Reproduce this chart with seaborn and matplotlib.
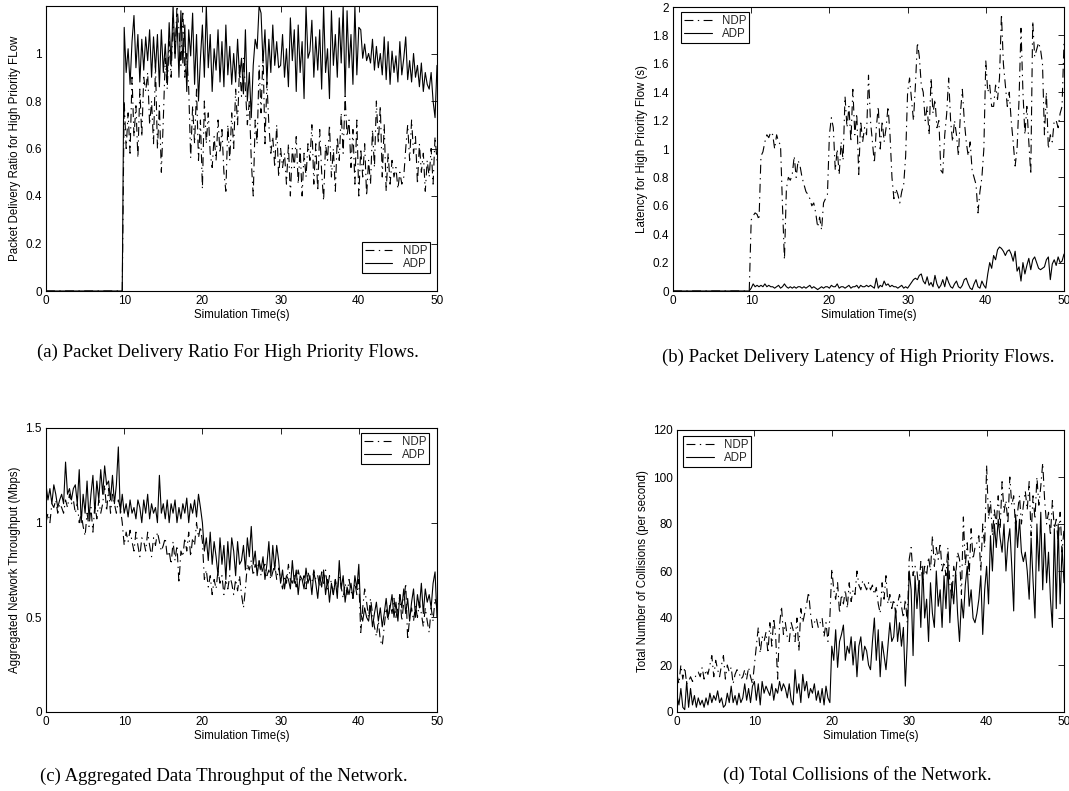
import numpy as np
import pandas as pd
import matplotlib
matplotlib.use("Agg")
import matplotlib.pyplot as plt
import seaborn as sns

# ---------------- data ----------------
time = np.arange(0, 50.001, 0.25)          # simulation time grid (s)
x_ticks = [0, 10, 20, 30, 40, 50]
x_ticklabels = ["0", "10", "20", "30", "40", "50"]

zeros_before_10 = [0.0] * 40               # t = 0 .. 9.75 : no high-priority flow yet

# (a) packet delivery ratio, t = 10 .. 50
pdr_adp = zeros_before_10 + [
    1.11, 0.92, 1.02, 0.87, 1.05, 1.16, 0.94, 1.08, 0.88, 1.06, 0.93, 1.07,
    0.97, 1.10, 0.90, 1.07, 0.93, 1.08, 0.86, 1.10, 0.92, 1.04, 0.89, 1.13,
    0.95, 1.20, 0.98, 1.15, 0.90, 1.18, 0.96, 1.12, 0.84, 1.10, 0.99, 1.17,
    0.87, 1.08, 0.80, 0.98, 1.12, 0.90, 1.20, 0.94, 1.08, 0.84, 1.02, 0.93,
    1.10, 0.88, 1.05, 0.86, 1.12, 0.91, 1.03, 0.87, 1.00, 0.88, 1.06, 0.90,
    0.98, 0.83, 1.10, 0.80, 0.92, 0.73, 0.95, 1.06, 1.02, 1.20, 1.17, 0.96,
    1.10, 0.88, 1.06, 0.92, 1.12, 0.95, 1.05, 0.94, 0.95, 1.08, 0.90, 1.02,
    0.86, 1.15, 0.97, 1.10, 0.84, 1.12, 0.92, 1.05, 0.81, 1.20, 0.98, 1.01,
    1.14, 0.90, 1.07, 0.93, 1.10, 0.85, 1.20, 0.92, 1.02, 0.81, 1.18, 0.95,
    1.08, 0.90, 1.15, 0.96, 1.20, 0.82, 1.18, 0.94, 1.08, 0.87, 1.20, 0.91,
    1.11, 1.10, 0.98, 1.04, 0.97, 1.00, 0.96, 1.06, 0.93, 1.03, 0.94, 1.00,
    0.91, 1.07, 0.89, 1.05, 0.87, 1.01, 0.92, 0.99, 0.88, 1.05, 0.91, 0.98,
    1.07, 0.89, 0.97, 0.88, 1.00, 0.90, 0.95, 0.86, 0.96, 0.84, 0.92, 0.87,
    0.85, 0.92, 0.80, 0.73, 0.95]
pdr_ndp = zeros_before_10 + [
    0.80, 0.60, 0.75, 0.58, 0.90, 0.65, 0.78, 0.56, 0.85, 0.65, 0.90, 0.84,
    0.92, 0.70, 0.80, 0.62, 0.95, 0.60, 0.78, 0.50, 0.72, 0.98, 0.85, 1.05,
    0.90, 1.15, 1.00, 1.20, 1.10, 0.95, 1.18, 0.90, 1.00, 0.85, 0.56, 0.78,
    0.62, 0.85, 0.55, 0.72, 0.43, 0.80, 0.62, 0.75, 0.58, 0.52, 0.65, 0.55,
    0.72, 0.58, 0.68, 0.50, 0.42, 0.70, 0.55, 0.75, 0.60, 0.85, 0.70, 0.95,
    0.82, 0.98, 0.85, 0.70, 0.80, 0.55, 0.40, 0.72, 0.62, 0.95, 0.75, 1.00,
    0.62, 0.88, 0.70, 0.58, 0.65, 0.52, 0.70, 0.48, 0.60, 0.52, 0.58, 0.45,
    0.62, 0.40, 0.60, 0.52, 0.65, 0.45, 0.60, 0.40, 0.58, 0.48, 0.62, 0.55,
    0.70, 0.45, 0.62, 0.42, 0.68, 0.50, 0.38, 0.62, 0.55, 0.70, 0.48, 0.60,
    0.42, 0.65, 0.55, 0.75, 0.58, 0.82, 0.65, 0.72, 0.52, 0.68, 0.45, 0.72,
    0.40, 0.60, 0.48, 0.62, 0.40, 0.55, 0.45, 0.68, 0.52, 0.80, 0.62, 0.78,
    0.48, 0.70, 0.42, 0.58, 0.45, 0.55, 0.48, 0.52, 0.43, 0.50, 0.45, 0.48,
    0.60, 0.70, 0.55, 0.72, 0.58, 0.65, 0.45, 0.62, 0.50, 0.58, 0.42, 0.55,
    0.48, 0.60, 0.45, 0.65, 0.55]

# (b) latency (s), t = 10 .. 50
lat_adp = zeros_before_10 + [
    0.02, 0.05, 0.03, 0.04, 0.03, 0.04, 0.03, 0.05, 0.03, 0.04, 0.03, 0.03,
    0.02, 0.03, 0.04, 0.02, 0.03, 0.05, 0.03, 0.02, 0.03, 0.02, 0.03, 0.02,
    0.03, 0.03, 0.02, 0.03, 0.02, 0.03, 0.04, 0.02, 0.03, 0.02, 0.01, 0.02,
    0.03, 0.02, 0.03, 0.03, 0.02, 0.04, 0.03, 0.03, 0.05, 0.02, 0.03, 0.03,
    0.02, 0.03, 0.04, 0.02, 0.03, 0.03, 0.04, 0.02, 0.04, 0.03, 0.03, 0.04,
    0.03, 0.04, 0.03, 0.02, 0.09, 0.02, 0.04, 0.03, 0.07, 0.04, 0.05, 0.03,
    0.04, 0.03, 0.03, 0.02, 0.03, 0.04, 0.02, 0.03, 0.02, 0.04, 0.06, 0.08,
    0.09, 0.08, 0.11, 0.12, 0.07, 0.05, 0.10, 0.04, 0.06, 0.03, 0.11, 0.05,
    0.02, 0.04, 0.08, 0.03, 0.10, 0.06, 0.03, 0.02, 0.05, 0.07, 0.03, 0.02,
    0.04, 0.08, 0.09, 0.05, 0.02, 0.01, 0.05, 0.08, 0.03, 0.02, 0.07, 0.04,
    0.02, 0.12, 0.20, 0.16, 0.25, 0.22, 0.29, 0.31, 0.30, 0.28, 0.25, 0.28,
    0.29, 0.26, 0.21, 0.28, 0.14, 0.17, 0.07, 0.20, 0.12, 0.18, 0.23, 0.15,
    0.22, 0.24, 0.20, 0.16, 0.15, 0.16, 0.17, 0.22, 0.24, 0.08, 0.19, 0.22,
    0.18, 0.24, 0.20, 0.21, 0.26]
lat_ndp = zeros_before_10 + [
    0.50, 0.53, 0.55, 0.54, 0.50, 0.95, 0.98, 1.05, 1.10, 1.08, 1.12, 1.10,
    1.00, 1.10, 1.05, 1.03, 0.60, 0.22, 0.72, 0.80, 0.78, 0.82, 0.95, 0.80,
    0.92, 0.88, 0.80, 0.75, 0.70, 0.68, 0.65, 0.60, 0.62, 0.55, 0.45, 0.52,
    0.43, 0.62, 0.65, 0.68, 1.10, 1.22, 1.15, 0.85, 1.00, 0.82, 1.05, 0.92,
    1.37, 1.15, 1.30, 1.05, 1.42, 1.10, 1.25, 0.82, 1.20, 1.05, 1.15, 1.10,
    1.52, 1.20, 1.05, 0.90, 1.15, 1.30, 1.00, 1.20, 1.05, 1.15, 1.30, 1.10,
    0.80, 0.65, 0.72, 0.68, 0.62, 0.70, 0.75, 0.95, 1.40, 1.50, 1.35, 1.20,
    1.45, 1.75, 1.65, 1.45, 1.40, 1.20, 1.30, 1.10, 1.50, 1.25, 1.35, 1.15,
    1.20, 0.85, 0.83, 1.10, 1.25, 1.50, 1.20, 1.05, 1.20, 1.10, 0.95, 1.25,
    1.42, 1.20, 1.05, 0.95, 1.05, 0.85, 0.80, 0.75, 0.55, 0.70, 0.80, 1.00,
    1.62, 1.40, 1.45, 1.30, 1.30, 1.45, 1.35, 1.50, 1.95, 1.60, 1.45, 1.30,
    1.40, 1.20, 1.05, 0.88, 1.00, 1.35, 1.85, 1.40, 1.10, 1.30, 1.05, 0.82,
    1.90, 1.65, 1.70, 1.75, 1.70, 1.60, 1.10, 1.40, 1.00, 1.10, 1.05, 1.20,
    1.20, 1.15, 1.25, 1.30, 1.75]

# (c) aggregated throughput (Mbps), t = 0 .. 50
thr_adp = [
    1.20, 1.12, 1.18, 1.10, 1.20, 1.15, 1.08, 1.12, 1.15, 1.10, 1.32, 1.15,
    1.18, 1.12, 1.18, 1.20, 1.10, 1.28, 1.00, 1.15, 1.05, 1.22, 1.02, 1.15,
    1.25, 1.05, 1.22, 1.12, 1.28, 1.15, 1.30, 1.20, 1.22, 1.12, 1.25, 1.10,
    1.20, 1.40, 1.05, 1.15, 1.05, 1.10, 1.03, 1.12, 1.05, 1.08, 1.02, 1.12,
    1.08, 1.00, 1.12, 1.05, 1.15, 1.02, 1.10, 1.05, 1.08, 1.00, 1.25, 1.05,
    1.10, 1.02, 1.12, 1.00, 1.10, 1.05, 1.12, 1.00, 1.08, 1.02, 1.10, 1.05,
    1.13, 1.00, 1.10, 1.05, 1.12, 1.03, 1.15, 1.08, 1.00, 0.85, 0.92, 0.80,
    0.95, 0.78, 0.90, 0.82, 0.72, 0.92, 0.78, 0.88, 0.70, 0.90, 0.75, 0.92,
    0.85, 0.72, 0.90, 0.78, 0.80, 0.88, 0.75, 0.92, 0.82, 0.98, 0.78, 0.85,
    0.72, 0.80, 0.75, 0.82, 0.70, 0.78, 0.90, 0.72, 0.88, 0.75, 0.88, 0.80,
    0.68, 0.75, 0.65, 0.72, 0.70, 0.65, 0.80, 0.68, 0.75, 0.62, 0.72, 0.70,
    0.65, 0.76, 0.68, 0.72, 0.62, 0.74, 0.68, 0.60, 0.72, 0.66, 0.75, 0.62,
    0.70, 0.58, 0.68, 0.62, 0.70, 0.60, 0.80, 0.65, 0.72, 0.58, 0.66, 0.62,
    0.68, 0.60, 0.72, 0.65, 0.78, 0.52, 0.48, 0.55, 0.50, 0.48, 0.56, 0.45,
    0.52, 0.58, 0.48, 0.55, 0.45, 0.52, 0.60, 0.50, 0.55, 0.62, 0.50, 0.58,
    0.48, 0.62, 0.55, 0.65, 0.52, 0.60, 0.48, 0.58, 0.65, 0.50, 0.62, 0.55,
    0.68, 0.52, 0.65, 0.58, 0.62, 0.55, 0.68, 0.74, 0.50]
thr_ndp = [
    1.00, 1.05, 1.00, 1.10, 1.08, 1.12, 1.05, 1.10, 1.08, 1.05, 1.12, 1.08,
    1.15, 1.10, 1.12, 1.05, 1.10, 1.00, 1.05, 0.98, 0.93, 1.05, 0.98, 1.08,
    0.95, 1.10, 1.02, 1.12, 1.05, 1.10, 1.20, 1.06, 1.18, 1.05, 1.15, 1.10,
    1.05, 1.12, 1.08, 1.00, 0.88, 0.95, 0.90, 0.96, 0.90, 0.85, 0.95, 0.88,
    0.82, 0.92, 0.90, 0.85, 0.95, 0.88, 0.82, 0.92, 0.88, 0.95, 0.90, 0.85,
    0.88, 0.92, 0.82, 0.85, 0.78, 0.90, 0.80, 0.88, 0.68, 0.85, 0.82, 0.92,
    0.85, 0.95, 0.82, 0.92, 0.88, 1.00, 0.92, 0.98, 0.90, 0.70, 0.75, 0.66,
    0.72, 0.62, 0.70, 0.65, 0.75, 0.68, 0.72, 0.62, 0.70, 0.65, 0.72, 0.68,
    0.62, 0.70, 0.64, 0.72, 0.62, 0.55, 0.65, 0.78, 0.75, 0.80, 0.72, 0.78,
    0.75, 0.80, 0.72, 0.76, 0.78, 0.72, 0.75, 0.70, 0.74, 0.78, 0.70, 0.76,
    0.70, 0.65, 0.72, 0.68, 0.78, 0.70, 0.68, 0.72, 0.66, 0.75, 0.70, 0.68,
    0.72, 0.65, 0.74, 0.70, 0.68, 0.75, 0.70, 0.72, 0.66, 0.74, 0.68, 0.75,
    0.65, 0.72, 0.68, 0.62, 0.70, 0.64, 0.72, 0.66, 0.60, 0.68, 0.62, 0.70,
    0.64, 0.60, 0.68, 0.62, 0.70, 0.42, 0.55, 0.65, 0.58, 0.50, 0.60, 0.52,
    0.45, 0.40, 0.48, 0.38, 0.35, 0.45, 0.55, 0.48, 0.58, 0.52, 0.60, 0.50,
    0.55, 0.62, 0.48, 0.58, 0.68, 0.38, 0.50, 0.55, 0.48, 0.56, 0.50, 0.58,
    0.52, 0.45, 0.55, 0.48, 0.42, 0.55, 0.48, 0.60, 0.55]

# (d) collisions per second, t = 0 .. 50
col_adp = [
    7, 3, 10, 2, 1, 13, 2, 10, 3, 7, 2, 6, 3, 5, 2, 6, 3, 8, 4, 7,
    5, 9, 4, 6, 2, 3, 8, 4, 11, 4, 7, 3, 8, 4, 6, 12, 5, 10, 4, 11,
    13, 5, 12, 3, 13, 8, 11, 9, 7, 12, 5, 10, 8, 13, 9, 12, 10, 6, 12, 5,
    3, 18, 8, 12, 4, 16, 9, 13, 6, 10, 8, 12, 5, 9, 4, 10, 3, 11, 6, 4,
    28, 22, 35, 19, 30, 33, 37, 22, 28, 25, 32, 20, 30, 15, 28, 32, 22, 28, 26, 20,
    18, 30, 40, 22, 35, 15, 30, 24, 18, 28, 38, 30, 32, 44, 30, 38, 28, 36, 11, 30,
    60, 52, 24, 58, 44, 56, 36, 62, 40, 48, 30, 55, 42, 36, 60, 45, 52, 36, 58, 44,
    64, 38, 55, 46, 60, 42, 30, 48, 40, 54, 62, 45, 52, 40, 38, 42, 48, 58, 33, 52,
    62, 46, 75, 60, 80, 70, 82, 74, 68, 80, 60, 72, 78, 62, 43, 84, 70, 82, 68, 64,
    68, 60, 48, 74, 56, 40, 80, 60, 85, 52, 76, 55, 68, 48, 36, 78, 44, 80, 46, 70,
    55]
col_ndp = [
    16, 12, 20, 14, 19, 12, 13, 15, 13, 14, 16, 17, 15, 19, 14, 18, 16, 20, 24, 15,
    22, 18, 15, 20, 24, 14, 20, 17, 19, 12, 16, 18, 17, 14, 15, 18, 14, 19, 15, 12,
    20, 28, 36, 25, 32, 30, 34, 25, 38, 28, 40, 32, 14, 37, 45, 33, 38, 32, 30, 38,
    35, 30, 40, 26, 44, 38, 42, 46, 51, 42, 36, 38, 40, 36, 38, 40, 32, 38, 30, 40,
    61, 52, 48, 55, 42, 50, 46, 52, 44, 55, 47, 52, 50, 60, 54, 52, 56, 54, 52, 55,
    52, 54, 50, 53, 46, 42, 55, 48, 58, 46, 50, 44, 48, 42, 46, 50, 45, 40, 48, 38,
    65, 70, 58, 62, 60, 52, 64, 55, 62, 58, 66, 60, 75, 62, 70, 65, 72, 60, 64, 58,
    70, 55, 48, 62, 58, 68, 65, 50, 83, 62, 72, 58, 78, 65, 70, 72, 75, 60, 80, 70,
    105, 82, 90, 75, 86, 80, 92, 78, 98, 85, 90, 80, 100, 88, 92, 78, 85, 92, 80, 88,
    94, 86, 98, 75, 92, 82, 100, 88, 96, 106, 90, 80, 85, 75, 90, 78, 82, 72, 85, 68,
    78]

series_names = ["NDP", "ADP"]
panels = [
    dict(ndp=pdr_ndp, adp=pdr_adp, ylim=(0, 1.2),
         yticks=[0, 0.2, 0.4, 0.6, 0.8, 1.0], yticklabels=["0", "0.2", "0.4", "0.6", "0.8", "1"],
         ylabel="Packet Delivery Ratio for High Priority FLow",
         caption="(a) Packet Delivery Ratio For High Priority Flows."),
    dict(ndp=lat_ndp, adp=lat_adp, ylim=(0, 2),
         yticks=[0, 0.2, 0.4, 0.6, 0.8, 1.0, 1.2, 1.4, 1.6, 1.8, 2.0],
         yticklabels=["0", "0.2", "0.4", "0.6", "0.8", "1", "1.2", "1.4", "1.6", "1.8", "2"],
         ylabel="Latency for High Priority Flow (s)",
         caption="(b) Packet Delivery Latency of High Priority Flows."),
    dict(ndp=thr_ndp, adp=thr_adp, ylim=(0, 1.5),
         yticks=[0, 0.5, 1.0, 1.5], yticklabels=["0", "0.5", "1", "1.5"],
         ylabel="Aggregated Network Throughput (Mbps)",
         caption="(c) Aggregated Data Throughput of the Network."),
    dict(ndp=col_ndp, adp=col_adp, ylim=(0, 120),
         yticks=[0, 20, 40, 60, 80, 100, 120], yticklabels=["0", "20", "40", "60", "80", "100", "120"],
         ylabel="Total Number of Collisions (per second)",
         caption="(d) Total Collisions of the Network."),
]

# ---------------- layout / style ----------------
sns.set_theme(style="white")
plt.rcParams["font.family"] = ["Liberation Sans", "DejaVu Sans"]
plt.rcParams["axes.edgecolor"] = "black"
plt.rcParams["axes.linewidth"] = 0.8

W, H = 1069, 791
fig = plt.figure(figsize=(W / 100, H / 100), dpi=100)

# axes boxes in pixels: left, right, top, bottom
boxes = [(46, 437, 6, 291), (673, 1064, 7, 291), (46, 437, 428, 712), (677, 1064, 430, 712)]
legend_spec = [
    ("lower right", (430, 273)), ("upper left", (681, 12)),
    ("upper right", (429, 433)), ("upper left", (683, 436)),
]
caption_pos = [(228, 352), (858, 357), (224, 776), (857, 775)]

for p, (l, r, t, b), (loc, (lx, ly)), (cx, cy) in zip(panels, boxes, legend_spec, caption_pos):
    ax = fig.add_axes([l / W, 1 - b / H, (r - l) / W, (b - t) / H])
    df = pd.DataFrame({"time": np.concatenate([time, time]),
                       "value": np.concatenate([p["ndp"], p["adp"]]),
                       "series": ["NDP"] * len(time) + ["ADP"] * len(time)})
    sns.lineplot(data=df, x="time", y="value", hue="series", style="series",
                 hue_order=series_names, style_order=series_names,
                 palette={"NDP": "black", "ADP": "black"},
                 dashes={"NDP": (8, 4, 1.2, 4), "ADP": ""},
                 linewidth=0.8, estimator=None, ax=ax, legend=True)
    ax.set_xlim(0, 50)
    ax.set_ylim(*p["ylim"])
    ax.set_xticks(x_ticks)
    ax.set_xticklabels(x_ticklabels)
    ax.set_yticks(p["yticks"])
    ax.set_yticklabels(p["yticklabels"])
    ax.tick_params(direction="in", top=True, right=True, length=4, width=0.6,
                   labelsize=8.5, pad=3, colors="black")
    ax.set_xlabel("Simulation Time(s)", fontsize=8.3, labelpad=1.5, color="black")
    ax.set_ylabel(p["ylabel"], fontsize=8.3, labelpad=3, color="black")
    for s in ax.spines.values():
        s.set_visible(True)
        s.set_color("black")
        s.set_linewidth(0.8)
    handles, labels = ax.get_legend_handles_labels()
    ax.get_legend().remove()
    ax_w, ax_h = r - l, b - t
    anchor = ((lx - l) / ax_w, (b - ly) / ax_h)
    leg = ax.legend(handles, labels, loc=loc, bbox_to_anchor=anchor, borderaxespad=0,
                    fontsize=8.3, frameon=True, fancybox=False, framealpha=1,
                    edgecolor="black", handlelength=2.4, handletextpad=0.9,
                    borderpad=0.25, labelspacing=0.1)
    leg.get_frame().set_linewidth(0.8)
    fig.text(cx / W, 1 - cy / H, p["caption"], ha="center", va="center",
             fontsize=13.5, family=["Liberation Serif", "DejaVu Serif"], color="black")

fig.savefig("out.png", dpi=100, facecolor="white")
